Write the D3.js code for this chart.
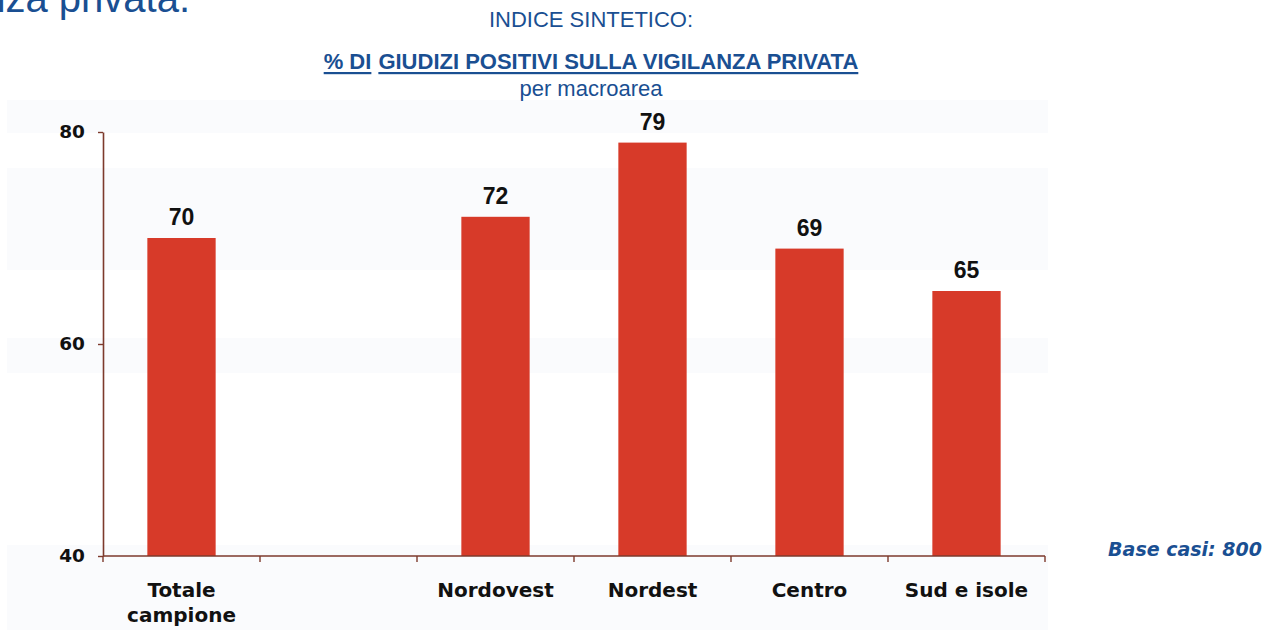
<!DOCTYPE html>
<html>
<head>
<meta charset="utf-8">
<script src="https://cdn.jsdelivr.net/npm/d3@7"></script>
<style>
  html, body { margin: 0; padding: 0; background: #fff; }
  svg { display: block; }
</style>
</head>
<body>
<div id="chart"></div>
<script>
// Data
const categories = ['Totale campione', '', 'Nordovest', 'Nordest', 'Centro', 'Sud e isole'];
const values     = [70, null, 72, 79, 69, 65];
const yTicks     = [40, 60, 80];

const TITLE_BLUE = '#1a4f92';
const BAR_RED    = '#d73a29';
const AXIS_COL   = '#7d3a2c';

const W = 1264, H = 630;
const svg = d3.select('#chart').append('svg').attr('width', W).attr('height', H);

// faint scan bands in the background
const bands = [[100, 133], [168, 270], [338, 373], [545, 630]];
svg.append('g').selectAll('rect').data(bands).join('rect')
  .attr('x', 7).attr('width', 1041)
  .attr('y', d => d[0]).attr('height', d => d[1] - d[0])
  .attr('fill', '#fafbfd');

// cut-off slide title top-left
svg.append('text')
  .attr('x', 190).attr('y', 12).attr('text-anchor', 'end')
  .attr('fill', TITLE_BLUE)
  .style('font-family', '"Liberation Sans", Arial, sans-serif').style('font-size', '40px')
  .text('vigilanza privata.');

// Titles
const tg = svg.append('g').style('font-family', '"Liberation Sans", Arial, sans-serif').attr('fill', TITLE_BLUE);
tg.append('text').attr('x', 591).attr('y', 27).attr('text-anchor', 'middle')
  .style('font-size', '22px').text('INDICE SINTETICO:');

const part1 = tg.append('text').attr('y', 69).style('font-size', '22px').style('font-weight', 'bold').text('% DI');
const part2 = tg.append('text').attr('y', 69).style('font-size', '22px').style('font-weight', 'bold')
  .text('GIUDIZI POSITIVI SULLA VIGILANZA PRIVATA');
const w1 = part1.node().getComputedTextLength();
const w2 = part2.node().getComputedTextLength();
const gap = 7;
const startX = 591 - (w1 + gap + w2) / 2;
part1.attr('x', startX);
part2.attr('x', startX + w1 + gap);
tg.append('rect').attr('x', startX).attr('y', 72).attr('width', w1).attr('height', 2.2);
tg.append('rect').attr('x', startX + w1 + gap).attr('y', 72).attr('width', w2).attr('height', 2.2);

tg.append('text').attr('x', 591).attr('y', 96).attr('text-anchor', 'middle')
  .style('font-size', '22px').text('per macroarea');

// Scales
const x = d3.scaleBand().domain(d3.range(categories.length)).range([103, 1045]).padding(0);
const y = d3.scaleLinear().domain([40, 80]).range([556, 132]);
const barW = x.bandwidth() * 0.435;

// Bars
const data = categories.map((c, i) => ({ i, c, v: values[i] })).filter(d => d.v != null);
svg.append('g').selectAll('rect').data(data).join('rect')
  .attr('x', d => x(d.i) + (x.bandwidth() - barW) / 2)
  .attr('width', barW)
  .attr('y', d => y(d.v))
  .attr('height', d => y(40) - y(d.v))
  .attr('fill', BAR_RED);

// Value labels
svg.append('g').selectAll('text').data(data).join('text')
  .attr('x', d => x(d.i) + x.bandwidth() / 2)
  .attr('y', d => y(d.v) - 13)
  .attr('text-anchor', 'middle')
  .style('font-family', '"Liberation Sans", Arial, sans-serif')
  .style('font-size', '23px').style('font-weight', 'bold')
  .attr('fill', '#111')
  .text(d => d.v);

// Y axis
svg.append('g')
  .attr('transform', `translate(${x.range()[0]},0)`)
  .call(d3.axisLeft(y).tickValues(yTicks).tickSize(5).tickPadding(13).tickSizeOuter(0))
  .call(ax => ax.select('.domain').attr('stroke', AXIS_COL).attr('stroke-width', 1.6))
  .call(ax => ax.selectAll('.tick line').attr('stroke', AXIS_COL).attr('stroke-width', 1.4))
  .call(ax => ax.selectAll('text')
    .attr('fill', '#111')
    .style('font-family', '"DejaVu Sans", Verdana, sans-serif')
    .style('font-size', '18.5px').style('font-weight', 'bold'));

// X axis: line plus ticks on band edges
const xg = svg.append('g');
xg.append('line')
  .attr('x1', x.range()[0]).attr('x2', x.range()[1])
  .attr('y1', y(40)).attr('y2', y(40))
  .attr('stroke', AXIS_COL).attr('stroke-width', 1.6);
const edges = d3.range(categories.length + 1).map(i => i < categories.length ? x(i) : x.range()[1]);
xg.selectAll('line.tk').data(edges).join('line').attr('class', 'tk')
  .attr('x1', d => d).attr('x2', d => d)
  .attr('y1', y(40)).attr('y2', y(40) + 6)
  .attr('stroke', AXIS_COL).attr('stroke-width', 1.4);

// Category labels
const catLines = {
  'Totale campione': ['Totale', 'campione'],
};
const lab = svg.append('g')
  .style('font-family', '"DejaVu Sans", Verdana, sans-serif')
  .style('font-size', '20px').style('font-weight', 'bold')
  .attr('fill', '#111');
categories.forEach((c, i) => {
  if (!c) return;
  const lines = catLines[c] || [c];
  const t = lab.append('text')
    .attr('x', x(i) + x.bandwidth() / 2)
    .attr('y', 597)
    .attr('text-anchor', 'middle');
  lines.forEach((l, k) => {
    t.append('tspan').attr('x', x(i) + x.bandwidth() / 2).attr('dy', k === 0 ? 0 : 25).text(l);
  });
});

// Base note
svg.append('text')
  .attr('x', 1262).attr('y', 556).attr('text-anchor', 'end')
  .attr('fill', TITLE_BLUE)
  .style('font-family', '"DejaVu Sans", Verdana, sans-serif')
  .style('font-size', '19px').style('font-weight', 'bold').style('font-style', 'italic')
  .text('Base casi: 800');
</script>
</body>
</html>
